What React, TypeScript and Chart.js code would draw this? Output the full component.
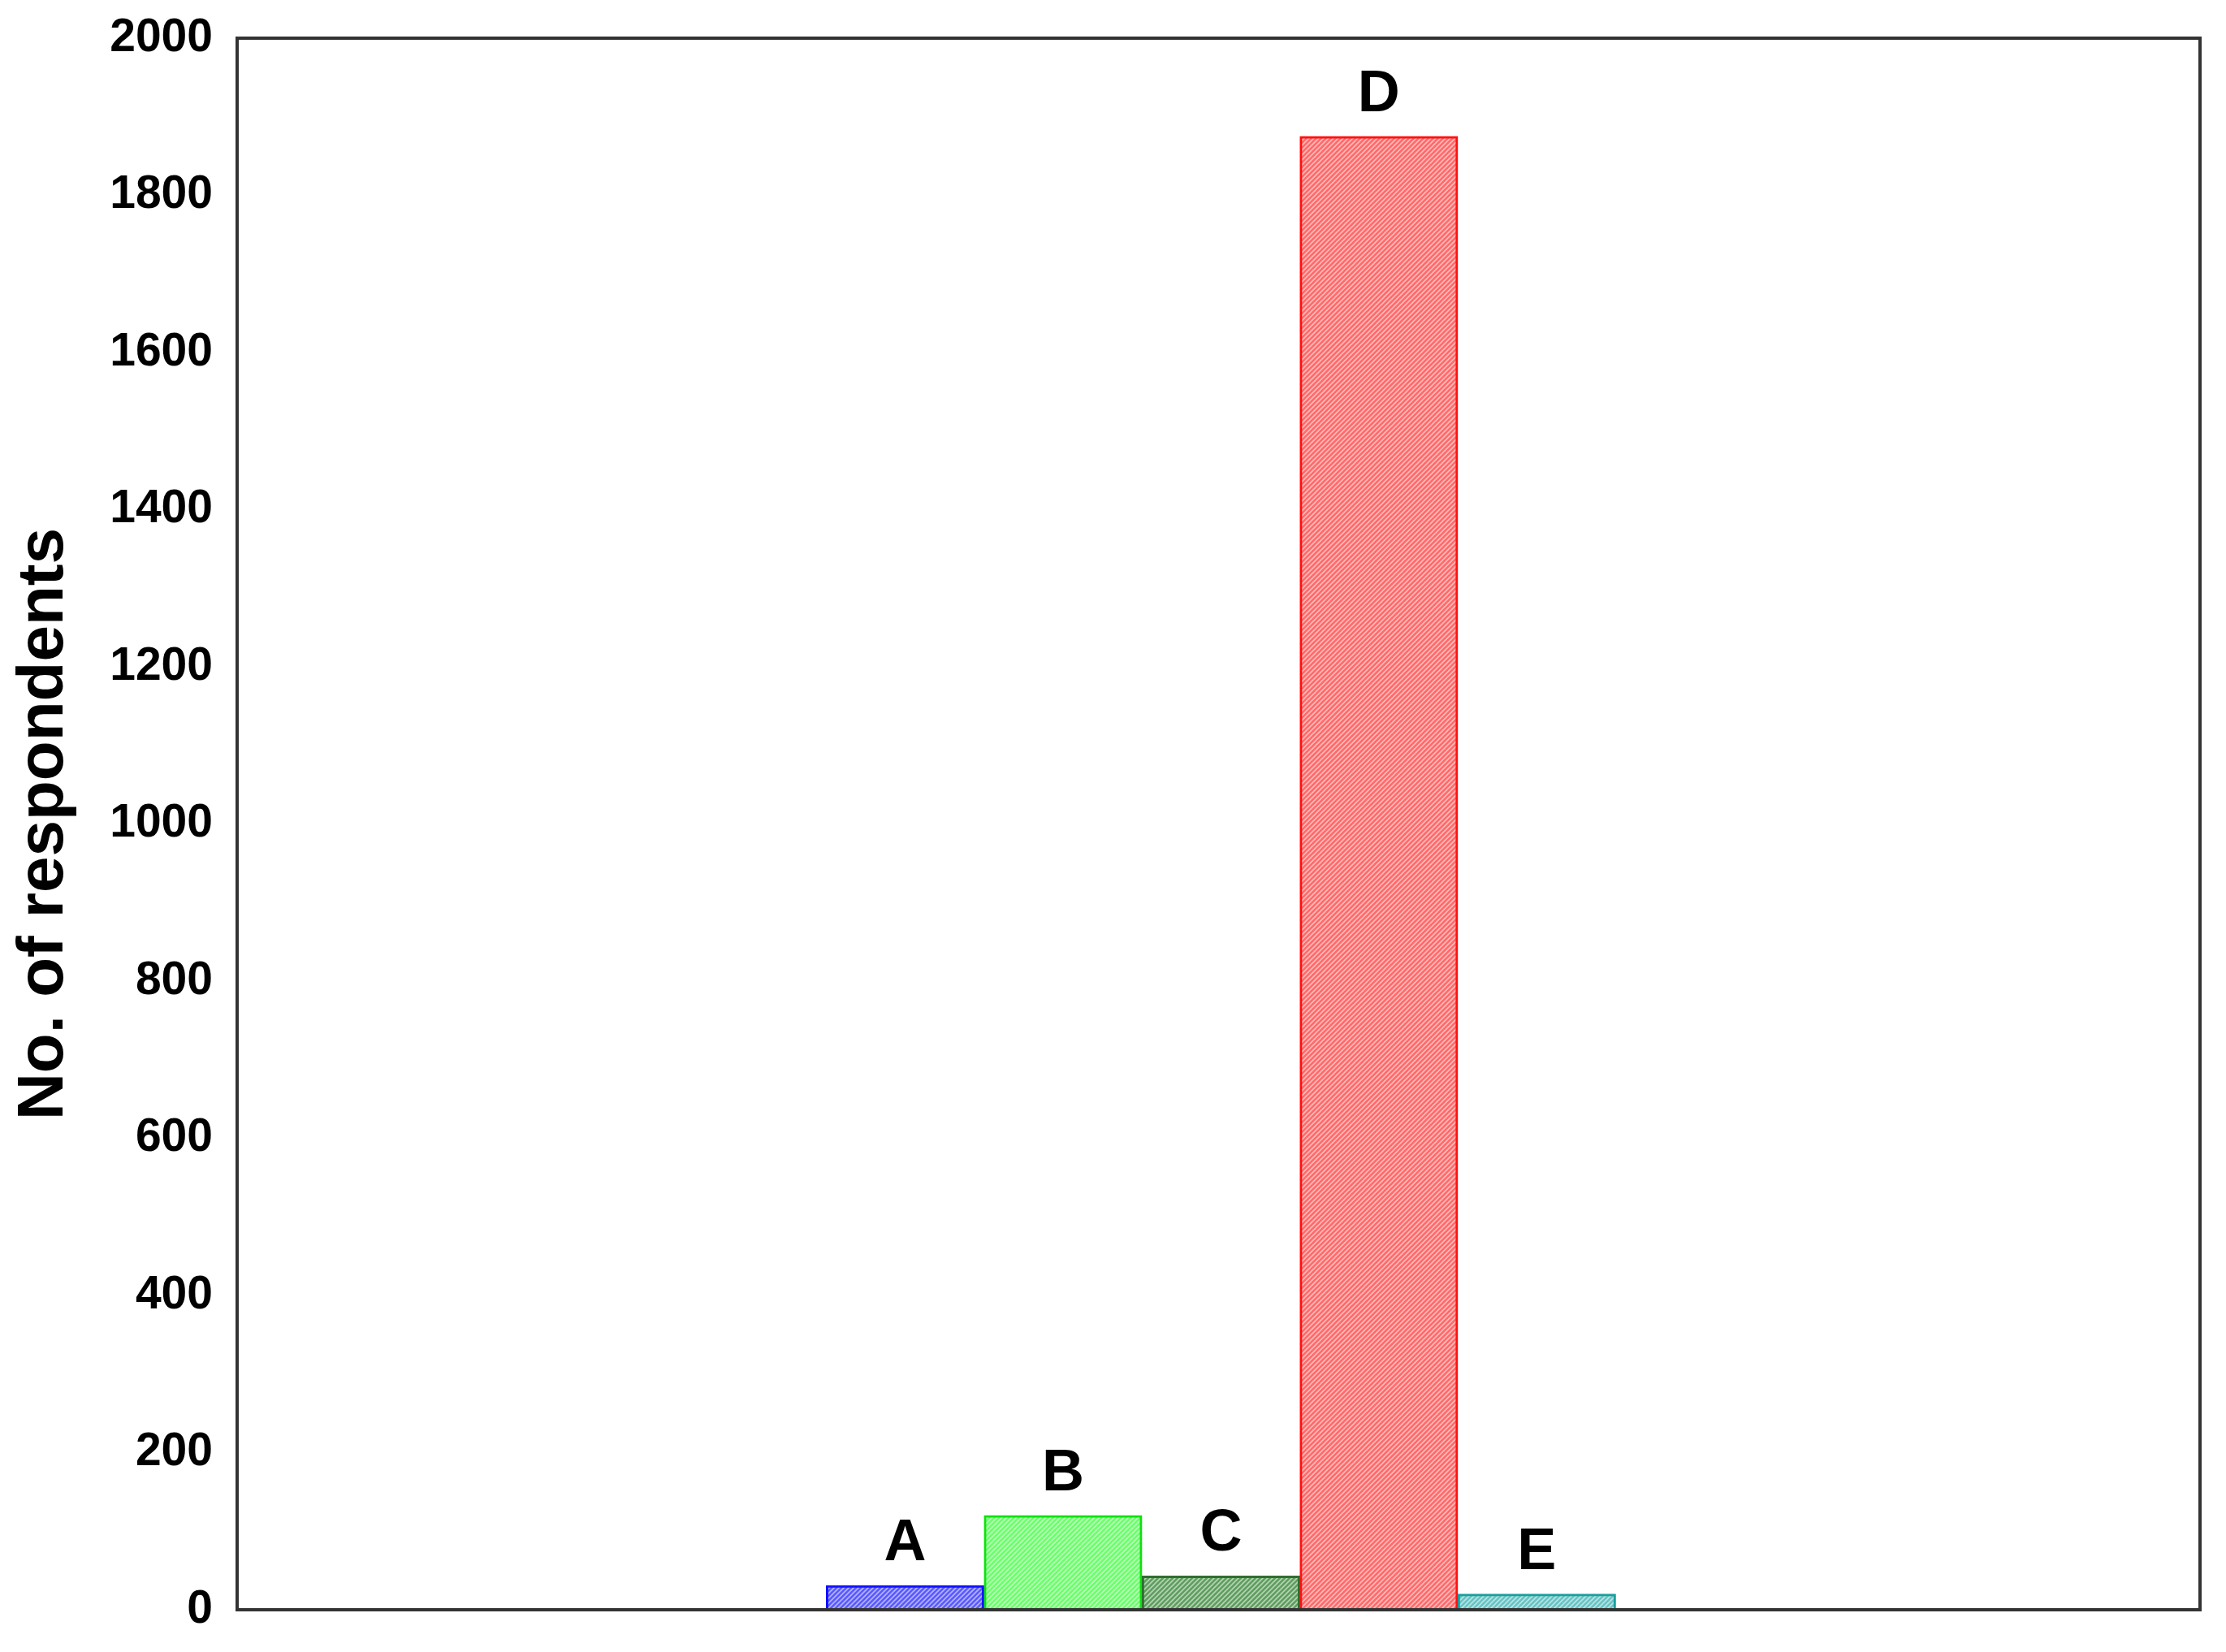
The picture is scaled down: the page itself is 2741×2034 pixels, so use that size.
import React, { useEffect, useRef } from "react";
import { Chart, registerables } from "chart.js";

Chart.register(...registerables);

const categories = ["A", "B", "C", "D", "E"];
const positions = [1, 2, 3, 4, 5];
const respondents = [31, 120, 43, 1875, 20];
const yTicks = [0, 200, 400, 600, 800, 1000, 1200, 1400, 1600, 1800, 2000];
const yTitle = "No. of respondents";

const baseColors = ["#5a5aff", "#6cff6c", "#5e9e5e", "#ff6a6a", "#66c4c4"];
const borderColors = ["#1010ff", "#10e010", "#2f6f2f", "#ff1010", "#1a9e9e"];

function makeHatch(color: string): CanvasPattern | string {
  const c = document.createElement("canvas");
  c.width = 6;
  c.height = 6;
  const ctx = c.getContext("2d");
  if (!ctx) return color;
  ctx.fillStyle = color;
  ctx.fillRect(0, 0, 6, 6);
  ctx.strokeStyle = "rgba(255,255,255,0.55)";
  ctx.lineWidth = 1.6;
  ctx.beginPath();
  ctx.moveTo(-1, 7);
  ctx.lineTo(7, -1);
  ctx.moveTo(-4, 4);
  ctx.lineTo(4, -4);
  ctx.moveTo(2, 10);
  ctx.lineTo(10, 2);
  ctx.stroke();
  const p = ctx.createPattern(c, "repeat");
  return p || color;
}

const FONT = "'Liberation Sans', Arial, Helvetica, sans-serif";

export default function App() {
  const ref = useRef<HTMLCanvasElement | null>(null);

  useEffect(() => {
    if (!ref.current) return;
    const frame = {
      id: "frameBox",
      afterDraw(chart: any) {
        const { ctx, chartArea } = chart;
        ctx.save();
        ctx.strokeStyle = "#333333";
        ctx.lineWidth = 4;
        ctx.strokeRect(
          chartArea.left,
          chartArea.top,
          chartArea.right - chartArea.left,
          chartArea.bottom - chartArea.top
        );
        ctx.restore();
      },
    };
    const barLabels = {
      id: "barLabels",
      afterDatasetsDraw(chart: any) {
        const { ctx } = chart;
        const meta = chart.getDatasetMeta(0);
        ctx.save();
        ctx.fillStyle = "#000";
        ctx.font = `bold 72px ${FONT}`;
        ctx.textAlign = "center";
        ctx.textBaseline = "alphabetic";
        meta.data.forEach((bar: any, i: number) => {
          ctx.fillText(categories[i], bar.x, bar.y - 31);
        });
        ctx.restore();
      },
    };
    const chart = new Chart(ref.current, {
      type: "bar",
      data: {
        datasets: [
          {
            data: positions.map((x, i) => ({ x, y: respondents[i] })),
            backgroundColor: baseColors.map((c) => makeHatch(c)) as any,
            borderColor: borderColors,
            borderWidth: 3,
            barPercentage: 1,
            categoryPercentage: 1,
          },
        ],
      },
      options: {
        animation: false,
        responsive: false,
        maintainAspectRatio: false,
        layout: { padding: { top: 47, bottom: 52, right: 32, left: 0 } },
        plugins: {
          legend: { display: false },
          tooltip: { enabled: false },
        },
        scales: {
          x: {
            type: "linear",
            display: false,
            min: -3.23,
            max: 9.2,
            offset: false,
          },
          y: {
            min: 0,
            max: 2000,
            grid: { display: false, drawTicks: false },
            border: { display: false },
            afterFit(scale: any) {
              scale.width = 292;
              scale.paddingTop = 0;
              scale.paddingBottom = 0;
            },
            afterBuildTicks(scale: any) {
              scale.ticks = yTicks.map((v) => ({ value: v }));
            },
            ticks: {
              padding: 30,
              color: "#000",
              callback: (v: any) => String(v),
              font: { family: FONT, size: 57, weight: "bold" },
            },
            title: {
              display: true,
              text: yTitle,
              color: "#000",
              padding: { top: 7, bottom: 0 },
              font: { family: FONT, size: 80, weight: "bold" },
            },
          },
        },
      },
      plugins: [frame, barLabels],
    } as any);
    return () => chart.destroy();
  }, []);

  return (
    <div style={{ position: "absolute", left: 0, top: 0, width: 2741, height: 2034, background: "#fff" }}>
      <canvas ref={ref} width={2741} height={2034} style={{ width: 2741, height: 2034, display: "block" }} />
    </div>
  );
}
